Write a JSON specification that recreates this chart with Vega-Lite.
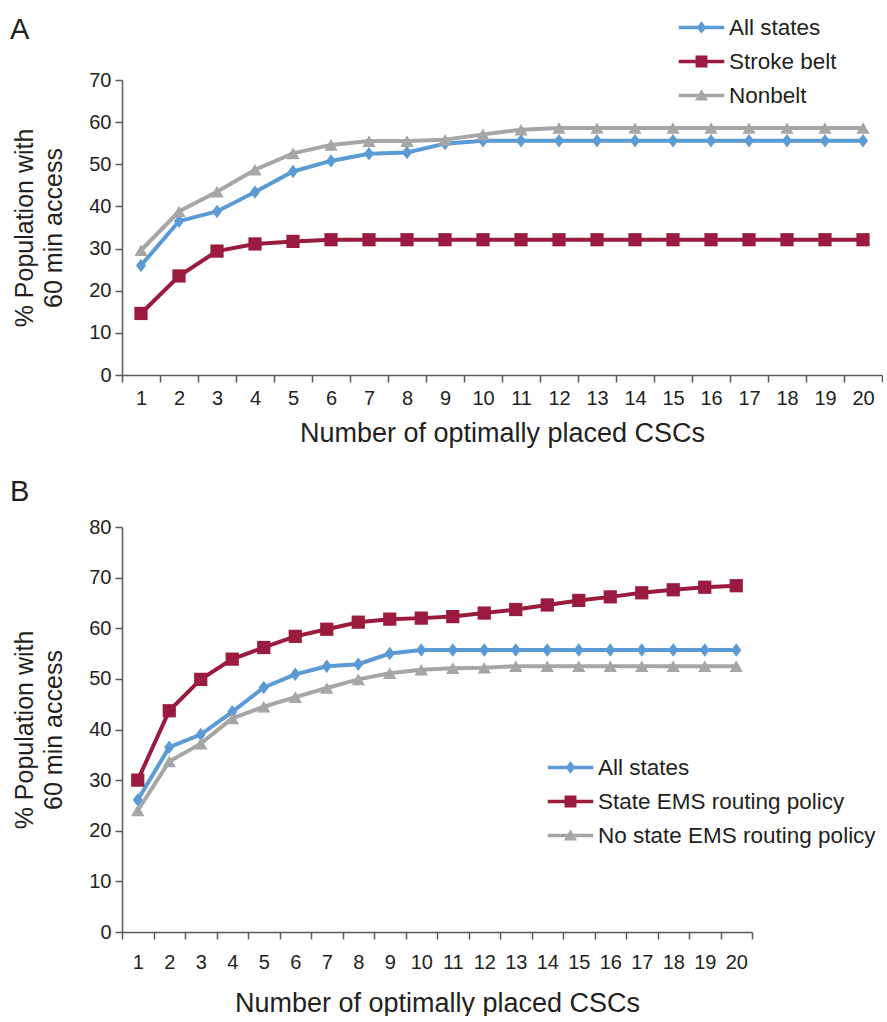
{
  "$schema": "https://vega.github.io/schema/vega-lite/v6.json",
  "padding": {"left": 10, "top": 10, "right": 0, "bottom": 0},
  "spacing": 32,
  "config": {
    "font": "Liberation Sans",
    "view": {"stroke": null},
    "axis": {
      "grid": false,
      "domainColor": "#5a5a5a",
      "tickColor": "#5a5a5a",
      "domainWidth": 1.5,
      "tickWidth": 1.5,
      "tickSize": 7,
      "labelColor": "#231f20",
      "titleColor": "#231f20",
      "labelFont": "Liberation Sans",
      "titleFont": "Liberation Sans",
      "labelFontSize": 20,
      "titleFontWeight": "normal"
    },
    "legend": {
      "labelFont": "Liberation Sans",
      "labelFontSize": 22.5,
      "labelColor": "#231f20",
      "labelLimit": 500,
      "symbolSize": 1225,
      "labelOffset": 10,
      "rowPadding": 5
    },
    "title": {"font": "Liberation Sans", "fontSize": 29, "fontWeight": "normal", "color": "#231f20"}
  },
  "datasets": {
    "a": [
      {"n": 1, "series": "All states", "value": 26.0},
      {"n": 2, "series": "All states", "value": 36.5},
      {"n": 3, "series": "All states", "value": 38.8},
      {"n": 4, "series": "All states", "value": 43.4},
      {"n": 5, "series": "All states", "value": 48.3},
      {"n": 6, "series": "All states", "value": 50.8},
      {"n": 7, "series": "All states", "value": 52.5},
      {"n": 8, "series": "All states", "value": 52.8},
      {"n": 9, "series": "All states", "value": 54.9},
      {"n": 10, "series": "All states", "value": 55.6},
      {"n": 11, "series": "All states", "value": 55.6},
      {"n": 12, "series": "All states", "value": 55.6},
      {"n": 13, "series": "All states", "value": 55.6},
      {"n": 14, "series": "All states", "value": 55.6},
      {"n": 15, "series": "All states", "value": 55.6},
      {"n": 16, "series": "All states", "value": 55.6},
      {"n": 17, "series": "All states", "value": 55.6},
      {"n": 18, "series": "All states", "value": 55.6},
      {"n": 19, "series": "All states", "value": 55.6},
      {"n": 20, "series": "All states", "value": 55.6},
      {"n": 1, "series": "Stroke belt", "value": 14.6},
      {"n": 2, "series": "Stroke belt", "value": 23.5},
      {"n": 3, "series": "Stroke belt", "value": 29.4},
      {"n": 4, "series": "Stroke belt", "value": 31.1},
      {"n": 5, "series": "Stroke belt", "value": 31.7},
      {"n": 6, "series": "Stroke belt", "value": 32.1},
      {"n": 7, "series": "Stroke belt", "value": 32.1},
      {"n": 8, "series": "Stroke belt", "value": 32.1},
      {"n": 9, "series": "Stroke belt", "value": 32.1},
      {"n": 10, "series": "Stroke belt", "value": 32.1},
      {"n": 11, "series": "Stroke belt", "value": 32.1},
      {"n": 12, "series": "Stroke belt", "value": 32.1},
      {"n": 13, "series": "Stroke belt", "value": 32.1},
      {"n": 14, "series": "Stroke belt", "value": 32.1},
      {"n": 15, "series": "Stroke belt", "value": 32.1},
      {"n": 16, "series": "Stroke belt", "value": 32.1},
      {"n": 17, "series": "Stroke belt", "value": 32.1},
      {"n": 18, "series": "Stroke belt", "value": 32.1},
      {"n": 19, "series": "Stroke belt", "value": 32.1},
      {"n": 20, "series": "Stroke belt", "value": 32.1},
      {"n": 1, "series": "Nonbelt", "value": 29.6},
      {"n": 2, "series": "Nonbelt", "value": 38.8},
      {"n": 3, "series": "Nonbelt", "value": 43.5},
      {"n": 4, "series": "Nonbelt", "value": 48.7},
      {"n": 5, "series": "Nonbelt", "value": 52.6},
      {"n": 6, "series": "Nonbelt", "value": 54.6},
      {"n": 7, "series": "Nonbelt", "value": 55.5},
      {"n": 8, "series": "Nonbelt", "value": 55.5},
      {"n": 9, "series": "Nonbelt", "value": 55.8},
      {"n": 10, "series": "Nonbelt", "value": 57.1},
      {"n": 11, "series": "Nonbelt", "value": 58.2},
      {"n": 12, "series": "Nonbelt", "value": 58.6},
      {"n": 13, "series": "Nonbelt", "value": 58.6},
      {"n": 14, "series": "Nonbelt", "value": 58.6},
      {"n": 15, "series": "Nonbelt", "value": 58.6},
      {"n": 16, "series": "Nonbelt", "value": 58.6},
      {"n": 17, "series": "Nonbelt", "value": 58.6},
      {"n": 18, "series": "Nonbelt", "value": 58.6},
      {"n": 19, "series": "Nonbelt", "value": 58.6},
      {"n": 20, "series": "Nonbelt", "value": 58.6}
    ],
    "b": [
      {"n": 1, "series": "All states", "value": 26.1},
      {"n": 2, "series": "All states", "value": 36.5},
      {"n": 3, "series": "All states", "value": 39.0},
      {"n": 4, "series": "All states", "value": 43.5},
      {"n": 5, "series": "All states", "value": 48.3},
      {"n": 6, "series": "All states", "value": 50.9},
      {"n": 7, "series": "All states", "value": 52.5},
      {"n": 8, "series": "All states", "value": 52.9},
      {"n": 9, "series": "All states", "value": 55.0},
      {"n": 10, "series": "All states", "value": 55.7},
      {"n": 11, "series": "All states", "value": 55.7},
      {"n": 12, "series": "All states", "value": 55.7},
      {"n": 13, "series": "All states", "value": 55.7},
      {"n": 14, "series": "All states", "value": 55.7},
      {"n": 15, "series": "All states", "value": 55.7},
      {"n": 16, "series": "All states", "value": 55.7},
      {"n": 17, "series": "All states", "value": 55.7},
      {"n": 18, "series": "All states", "value": 55.7},
      {"n": 19, "series": "All states", "value": 55.7},
      {"n": 20, "series": "All states", "value": 55.7},
      {"n": 1, "series": "State EMS routing policy", "value": 30.0},
      {"n": 2, "series": "State EMS routing policy", "value": 43.7},
      {"n": 3, "series": "State EMS routing policy", "value": 49.9},
      {"n": 4, "series": "State EMS routing policy", "value": 53.9},
      {"n": 5, "series": "State EMS routing policy", "value": 56.2},
      {"n": 6, "series": "State EMS routing policy", "value": 58.4},
      {"n": 7, "series": "State EMS routing policy", "value": 59.8},
      {"n": 8, "series": "State EMS routing policy", "value": 61.2},
      {"n": 9, "series": "State EMS routing policy", "value": 61.8},
      {"n": 10, "series": "State EMS routing policy", "value": 62.0},
      {"n": 11, "series": "State EMS routing policy", "value": 62.3},
      {"n": 12, "series": "State EMS routing policy", "value": 63.0},
      {"n": 13, "series": "State EMS routing policy", "value": 63.7},
      {"n": 14, "series": "State EMS routing policy", "value": 64.6},
      {"n": 15, "series": "State EMS routing policy", "value": 65.5},
      {"n": 16, "series": "State EMS routing policy", "value": 66.2},
      {"n": 17, "series": "State EMS routing policy", "value": 67.0},
      {"n": 18, "series": "State EMS routing policy", "value": 67.6},
      {"n": 19, "series": "State EMS routing policy", "value": 68.1},
      {"n": 20, "series": "State EMS routing policy", "value": 68.4},
      {"n": 1, "series": "No state EMS routing policy", "value": 24.0},
      {"n": 2, "series": "No state EMS routing policy", "value": 33.7},
      {"n": 3, "series": "No state EMS routing policy", "value": 37.2},
      {"n": 4, "series": "No state EMS routing policy", "value": 42.2},
      {"n": 5, "series": "No state EMS routing policy", "value": 44.5},
      {"n": 6, "series": "No state EMS routing policy", "value": 46.4},
      {"n": 7, "series": "No state EMS routing policy", "value": 48.2},
      {"n": 8, "series": "No state EMS routing policy", "value": 49.9},
      {"n": 9, "series": "No state EMS routing policy", "value": 51.1},
      {"n": 10, "series": "No state EMS routing policy", "value": 51.8},
      {"n": 11, "series": "No state EMS routing policy", "value": 52.1},
      {"n": 12, "series": "No state EMS routing policy", "value": 52.2},
      {"n": 13, "series": "No state EMS routing policy", "value": 52.5},
      {"n": 14, "series": "No state EMS routing policy", "value": 52.5},
      {"n": 15, "series": "No state EMS routing policy", "value": 52.5},
      {"n": 16, "series": "No state EMS routing policy", "value": 52.5},
      {"n": 17, "series": "No state EMS routing policy", "value": 52.5},
      {"n": 18, "series": "No state EMS routing policy", "value": 52.5},
      {"n": 19, "series": "No state EMS routing policy", "value": 52.5},
      {"n": 20, "series": "No state EMS routing policy", "value": 52.5}
    ]
  },
  "vconcat": [
    {
      "width": 760,
      "height": 295,
      "title": {"text": "A", "anchor": "start", "frame": "group", "dx": -112, "offset": -35},
      "data": {"name": "a"},
      "encoding": {
        "x": {
          "field": "n", "type": "ordinal", "bandPosition": 0.5,
          "scale": {"type": "band", "paddingInner": 0, "paddingOuter": 0},
          "axis": {"title": "Number of optimally placed CSCs", "labelAngle": 0, "tickBand": "extent", "labelPadding": 6, "titleFontSize": 27, "titlePadding": 12}
        },
        "y": {
          "field": "value", "type": "quantitative",
          "scale": {"domain": [0, 70]},
          "axis": {"values": [0, 10, 20, 30, 40, 50, 60, 70], "title": ["% Population with", "60 min access"], "titleFontSize": 25, "titleLineHeight": 29, "labelPadding": 4, "titlePadding": 22}
        },
        "color": {"field": "series", "type": "nominal",
          "scale": {"domain": ["All states", "Stroke belt", "Nonbelt"], "range": ["#5b9bd5", "#9b1b3e", "#a6a6a6"]},
          "legend": {
            "orient": "none", "legendX": 562, "legendY": -70, "title": null,
            "encode": {"symbols": {"update": {
              "strokeWidth": {"value": 0},
              "fill": {"signal": "datum.value === 'All states' ? '#5b9bd5' : datum.value === 'Stroke belt' ? '#9b1b3e' : '#a6a6a6'"},
              "shape": {"signal": "datum.value === 'All states' ? 'M-1.3,-0.1L1.3,-0.1L1.3,0.1L-1.3,0.1Z M0,-0.36L0.28,0L0,0.36L-0.28,0Z' : datum.value === 'Stroke belt' ? 'M-1.3,-0.1L1.3,-0.1L1.3,0.1L-1.3,0.1Z M-0.34,-0.34L0.34,-0.34L0.34,0.34L-0.34,0.34Z' : 'M-1.3,-0.1L1.3,-0.1L1.3,0.1L-1.3,0.1Z M0,-0.36L0.37,0.28L-0.37,0.28Z'"}
            }}}
          }}
      },
      "layer": [
        {"mark": {"type": "line", "strokeWidth": 4}},
        {
          "transform": [{"filter": {"field": "series", "equal": "All states"}}],
          "mark": {"type": "point", "shape": "M0,-1L0.75,0L0,1L-0.75,0Z", "filled": true, "opacity": 1, "strokeWidth": 0, "size": 180}
        },
        {
          "transform": [{"filter": {"field": "series", "equal": "Stroke belt"}}],
          "mark": {"type": "point", "shape": "square", "filled": true, "opacity": 1, "strokeWidth": 0, "size": 175}
        },
        {
          "transform": [{"filter": {"field": "series", "equal": "Nonbelt"}}],
          "mark": {"type": "point", "shape": "triangle-up", "filled": true, "opacity": 1, "strokeWidth": 0, "size": 180}
        }
      ]
    },
    {
      "width": 630,
      "height": 405,
      "title": {"text": "B", "anchor": "start", "frame": "group", "dx": -112, "offset": 10},
      "data": {"name": "b"},
      "encoding": {
        "x": {
          "field": "n", "type": "ordinal", "bandPosition": 0.5,
          "scale": {"type": "band", "paddingInner": 0, "paddingOuter": 0},
          "axis": {"title": "Number of optimally placed CSCs", "labelAngle": 0, "tickBand": "extent", "labelPadding": 13, "titleFontSize": 27, "titlePadding": 18}
        },
        "y": {
          "field": "value", "type": "quantitative",
          "scale": {"domain": [0, 80]},
          "axis": {"values": [0, 10, 20, 30, 40, 50, 60, 70, 80], "title": ["% Population with", "60 min access"], "titleFontSize": 25, "titleLineHeight": 29, "labelPadding": 4, "titlePadding": 22}
        },
        "color": {"field": "series", "type": "nominal",
          "scale": {"domain": ["All states", "State EMS routing policy", "No state EMS routing policy"], "range": ["#5b9bd5", "#9b1b3e", "#a6a6a6"]},
          "legend": {
            "orient": "none", "legendX": 431, "legendY": 223, "title": null,
            "encode": {"symbols": {"update": {
              "strokeWidth": {"value": 0},
              "fill": {"signal": "datum.value === 'All states' ? '#5b9bd5' : datum.value === 'State EMS routing policy' ? '#9b1b3e' : '#a6a6a6'"},
              "shape": {"signal": "datum.value === 'All states' ? 'M-1.3,-0.1L1.3,-0.1L1.3,0.1L-1.3,0.1Z M0,-0.36L0.28,0L0,0.36L-0.28,0Z' : datum.value === 'State EMS routing policy' ? 'M-1.3,-0.1L1.3,-0.1L1.3,0.1L-1.3,0.1Z M-0.34,-0.34L0.34,-0.34L0.34,0.34L-0.34,0.34Z' : 'M-1.3,-0.1L1.3,-0.1L1.3,0.1L-1.3,0.1Z M0,-0.36L0.37,0.28L-0.37,0.28Z'"}
            }}}
          }}
      },
      "layer": [
        {"mark": {"type": "line", "strokeWidth": 4}},
        {
          "transform": [{"filter": {"field": "series", "equal": "All states"}}],
          "mark": {"type": "point", "shape": "M0,-1L0.75,0L0,1L-0.75,0Z", "filled": true, "opacity": 1, "strokeWidth": 0, "size": 180}
        },
        {
          "transform": [{"filter": {"field": "series", "equal": "State EMS routing policy"}}],
          "mark": {"type": "point", "shape": "square", "filled": true, "opacity": 1, "strokeWidth": 0, "size": 175}
        },
        {
          "transform": [{"filter": {"field": "series", "equal": "No state EMS routing policy"}}],
          "mark": {"type": "point", "shape": "triangle-up", "filled": true, "opacity": 1, "strokeWidth": 0, "size": 180}
        }
      ]
    }
  ],
  "resolve": {"scale": {"color": "independent", "x": "independent", "y": "independent"}}
}
